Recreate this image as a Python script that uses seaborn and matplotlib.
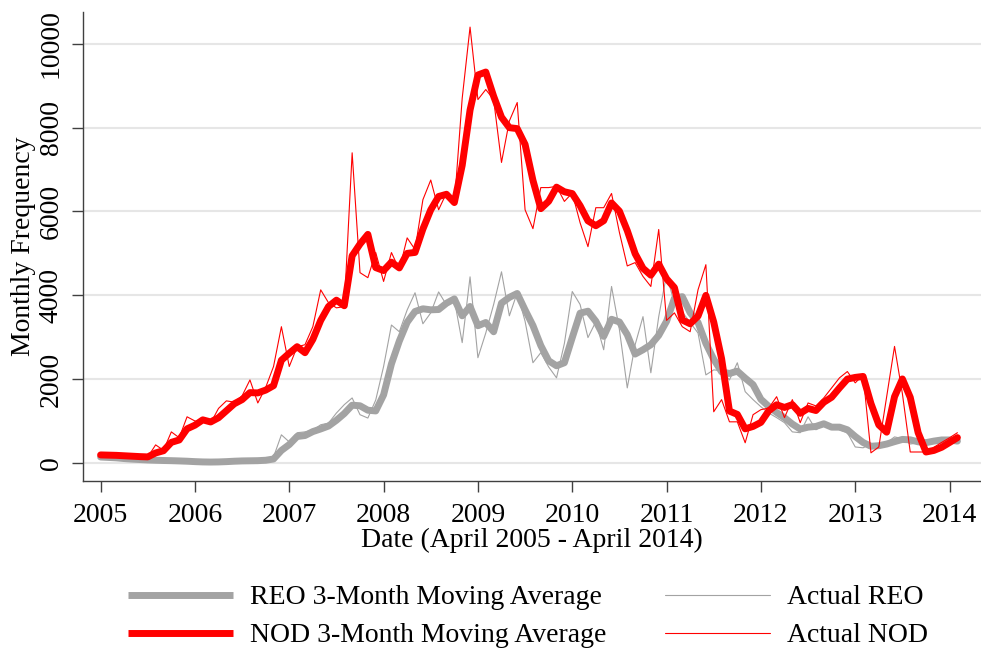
import numpy as np
import matplotlib.pyplot as plt
from matplotlib.lines import Line2D
import seaborn as sns

sns.set_style("white")
plt.rcParams['font.family'] = ['Liberation Serif', 'DejaVu Serif']
plt.rcParams['text.color'] = 'black'
plt.rcParams['axes.labelcolor'] = 'black'

# Monthly counts (month 0 = April 2005)
nod_actual = [190, 180, 170, 160, 150, 140, 140, 430, 300, 740,
              600, 1100, 1000, 980, 950, 1300, 1480, 1450, 1600, 1980,
              1430, 1800, 2300, 3250, 2300, 2770, 2820, 3250, 4130, 3820,
              3700, 3730, 7400, 4540, 4420, 5020, 4330, 5020, 4610, 5370,
              5090, 6280, 6750, 6040, 6440, 6160, 8700, 10400, 8670, 8910,
              8670, 7170, 8160, 8600, 6040, 5590, 6570, 6570, 6600, 6240,
              6440, 5730, 5160, 6090, 6090, 6430, 5500, 4700, 4780, 4450,
              4210, 5570, 3400, 3580, 3250, 3130, 4130, 4730, 1220, 1510,
              980, 980, 480, 1150, 1270, 1310, 1580, 1080, 1510, 960,
              1430, 1360, 1550, 1790, 2030, 2180, 1910, 2100, 240, 380,
              1580, 2780, 1650, 260, 260, 260, 370, 490, 600, 720]

nod_ma = [190, 185, 180, 170, 160, 150, 143, 237, 290, 490,
          547, 813, 900, 1027, 977, 1077, 1243, 1410, 1510, 1677,
          1670, 1737, 1843, 2450, 2617, 2773, 2630, 2947, 3400, 3733,
          3883, 3750, 4943, 5223, 5453, 4660, 4590, 4790, 4653, 5000,
          5023, 5580, 6040, 6357, 6410, 6213, 7100, 8420, 9257, 9327,
          8750, 8250, 8000, 7977, 7600, 6743, 6067, 6243, 6580, 6470,
          6427, 6137, 5777, 5660, 5780, 6203, 6007, 5543, 4993, 4643,
          4480, 4743, 4393, 4183, 3410, 3320, 3503, 3997, 3360, 2487,
          1237, 1157, 813, 870, 967, 1243, 1387, 1323, 1390, 1183,
          1300, 1250, 1447, 1567, 1790, 2000, 2040, 2063, 1417, 907,
          733, 1580, 2003, 1563, 723, 260, 297, 373, 487, 603]

reo_actual = [140, 120, 100, 90, 80, 70, 60, 60, 50, 50,
              40, 30, 20, 20, 20, 30, 40, 50, 50, 50,
              60, 80, 140, 670, 500, 720, 740, 780, 910, 950,
              1190, 1390, 1550, 1150, 1070, 1500, 2300, 3290, 3130, 3650,
              4060, 3320, 3580, 4080, 3770, 3890, 2870, 4440, 2510, 3100,
              3780, 4560, 3510, 4060, 3380, 2390, 2630, 2290, 2030, 2850,
              4090, 3780, 2990, 3370, 2700, 4210, 3180, 1790, 2820, 3490,
              2150, 3490, 4500, 3800, 3600, 3350, 3100, 2100, 2220, 2200,
              1980, 2390, 1700, 1510, 1340, 1190, 1080, 960, 740, 720,
              1100, 790, 910, 860, 790, 720, 380, 360, 450, 420,
              480, 620, 580, 450, 480, 520, 560, 560, 520, 480]

reo_ma = [140, 130, 120, 103, 90, 80, 70, 63, 57, 53,
          47, 40, 30, 23, 20, 23, 30, 40, 47, 50,
          53, 63, 93, 297, 437, 630, 653, 747, 810, 880,
          1017, 1177, 1377, 1363, 1257, 1240, 1623, 2363, 2907, 3357,
          3613, 3677, 3653, 3660, 3810, 3913, 3510, 3733, 3273, 3350,
          3130, 3813, 3950, 4043, 3650, 3277, 2800, 2437, 2317, 2390,
          2990, 3573, 3620, 3380, 3020, 3427, 3363, 3060, 2597, 2700,
          2820, 3043, 3380, 3930, 3967, 3583, 3350, 2850, 2473, 2173,
          2133, 2190, 2023, 1867, 1517, 1347, 1203, 1077, 927, 807,
          853, 870, 933, 853, 853, 790, 630, 487, 397, 410,
          450, 507, 560, 550, 503, 483, 520, 547, 547, 520]

years = [2005, 2006, 2007, 2008, 2009, 2010, 2011, 2012, 2013, 2014]
month = np.arange(len(nod_actual))

gray = '#a3a3a3'
red = '#ff0000'

fig, ax = plt.subplots(figsize=(9.81, 6.49), dpi=100)
fig.subplots_adjust(left=0.0846, right=1.0, bottom=0.259, top=0.9815)

# thin actual lines under the thick moving averages
sns.lineplot(x=month, y=reo_actual, ax=ax, color=gray, linewidth=0.8, estimator=None)
sns.lineplot(x=month, y=reo_ma, ax=ax, color=gray, linewidth=5, estimator=None,
             solid_capstyle='round', solid_joinstyle='round')
sns.lineplot(x=month, y=nod_actual, ax=ax, color=red, linewidth=0.8, estimator=None)
sns.lineplot(x=month, y=nod_ma, ax=ax, color=red, linewidth=5, estimator=None,
             solid_capstyle='round', solid_joinstyle='round')

ax.set_xlim(-2.24, 112.0)
ax.set_ylim(-430, 10760)
ax.set_xticks(month[::12][:len(years)])
ax.set_xticklabels([str(y) for y in years])
ax.set_yticks([0, 2000, 4000, 6000, 8000, 10000])
ax.tick_params(axis='y', labelrotation=90, labelsize=20, length=8, width=1,
               color='#404040', labelcolor='black', pad=6, left=True)
ax.tick_params(axis='x', labelsize=20, length=8, width=1, color='#404040',
               labelcolor='black', pad=8, bottom=True)
for lab in ax.get_yticklabels():
    lab.set_va('center')

ax.yaxis.grid(True, color='#e6e6e6', linewidth=1.5)
ax.set_axisbelow(True)
for s in ['top', 'right']:
    ax.spines[s].set_visible(False)
for s in ['left', 'bottom']:
    ax.spines[s].set_color('#404040')
    ax.spines[s].set_linewidth(1)

ax.set_xlabel('Date (April 2005 - April 2014)', fontsize=20, labelpad=0)
ax.set_ylabel('Monthly Frequency', fontsize=20, labelpad=2)

# legend keys with flat ends, like the original
handles = [Line2D([], [], color=gray, linewidth=5, solid_capstyle='butt'),
           Line2D([], [], color=red, linewidth=5, solid_capstyle='butt'),
           Line2D([], [], color=gray, linewidth=0.8),
           Line2D([], [], color=red, linewidth=0.8)]
labels = ['REO 3-Month Moving Average', 'NOD 3-Month Moving Average',
          'Actual REO', 'Actual NOD']
fig.legend(handles, labels, loc='center', bbox_to_anchor=(0.538, 0.05), ncol=2,
           frameon=False, fontsize=20, handlelength=3.8, columnspacing=2.1,
           handletextpad=0.6, labelspacing=0.45)

fig.savefig('out.png', dpi=100)
